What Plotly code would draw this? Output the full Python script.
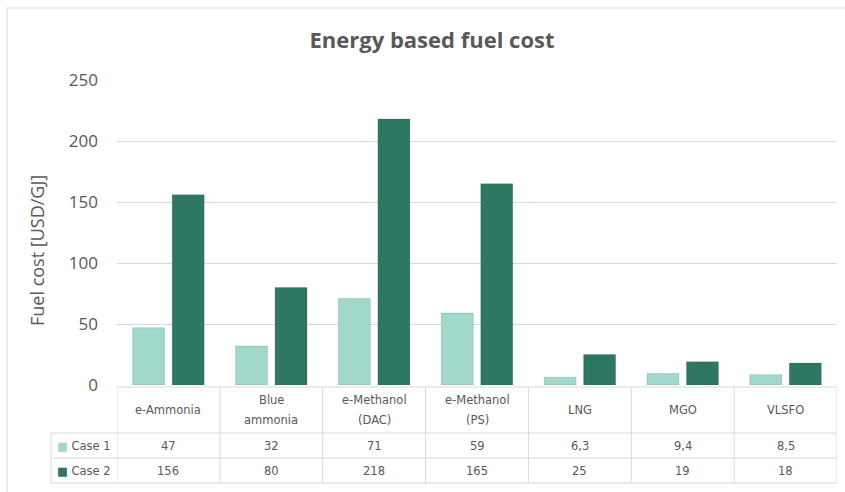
import plotly.graph_objects as go

categories = ["e-Ammonia", "Blue<br>ammonia", "e-Methanol<br>(DAC)", "e-Methanol<br>(PS)", "LNG", "MGO", "VLSFO"]
series_names = ["Case 1", "Case 2"]
case1 = [47, 32, 71, 59, 6.3, 9.4, 8.5]
case2 = [156, 80, 218, 165, 25, 19, 18]
case1_labels = ["47", "32", "71", "59", "6,3", "9,4", "8,5"]
case2_labels = ["156", "80", "218", "165", "25", "19", "18"]
y_ticks = [0, 50, 100, 150, 200, 250]
y_title = "Fuel cost [USD/GJ]"

C1 = "#A0D8CB"
C2 = "#2E7763"
TXT = "#595959"
GRID = "#D9D9D9"

W, H = 845, 492
ML, MR, MT, MB = 117, 8, 80, 107
PW = W - ML - MR
PH = H - MT - MB


def px_x(px):
    return (px - ML) / PW


def px_y(py):
    return (H - MB - py) / PH


fig = go.Figure()
fig.add_trace(go.Bar(x=list(range(len(categories))), y=case1, name=series_names[0],
                     marker=dict(color=C1, line=dict(color="rgba(0,0,0,0.12)", width=1))))
fig.add_trace(go.Bar(x=list(range(len(categories))), y=case2, name=series_names[1],
                     marker=dict(color=C2, line=dict(color="rgba(0,0,0,0.12)", width=1))))

shapes = []
annotations = []
n = len(categories)

# table geometry (pixels)
top_y, head_y, r1_y, r2_y = 387, 433, 458, 483
leg_left = 51

line = dict(color=GRID, width=1)
shapes.append(dict(type="line", xref="x", yref="paper", x0=-0.5, x1=n - 0.5,
                   y0=px_y(top_y), y1=px_y(top_y), line=line))
for yy in (head_y, r1_y, r2_y):
    shapes.append(dict(type="line", xref="paper", yref="paper", x0=px_x(leg_left), x1=1,
                       y0=px_y(yy), y1=px_y(yy), line=line))
for i in range(n + 1):
    shapes.append(dict(type="line", xref="x", yref="paper", x0=i - 0.5, x1=i - 0.5,
                       y0=px_y(top_y), y1=px_y(r2_y), line=line))
shapes.append(dict(type="line", xref="paper", yref="paper", x0=px_x(leg_left), x1=px_x(leg_left),
                   y0=px_y(head_y), y1=px_y(r2_y), line=line))
# chart border (left + top)
shapes.append(dict(type="line", xref="paper", yref="paper", x0=px_x(7), x1=px_x(7),
                   y0=px_y(8), y1=px_y(H), line=dict(color="#D9D9D9", width=1)))
shapes.append(dict(type="line", xref="paper", yref="paper", x0=px_x(7), x1=px_x(W),
                   y0=px_y(8), y1=px_y(8), line=dict(color="#D9D9D9", width=1)))

tfont = dict(family="DejaVu Sans", size=11.5, color=TXT)
for i, cat in enumerate(categories):
    parts = cat.split("<br>")
    head_c = (top_y + head_y) / 2
    ys = [head_c] if len(parts) == 1 else [head_c - 10, head_c + 10]
    for p, yy in zip(parts, ys):
        annotations.append(dict(x=i, y=px_y(yy), xref="x", yref="paper", text=p,
                                showarrow=False, font=tfont, xanchor="center", yanchor="middle"))
    annotations.append(dict(x=i, y=px_y((head_y + r1_y) / 2), xref="x", yref="paper",
                            text=case1_labels[i], showarrow=False, font=tfont,
                            xanchor="center", yanchor="middle"))
    annotations.append(dict(x=i, y=px_y((r1_y + r2_y) / 2), xref="x", yref="paper",
                            text=case2_labels[i], showarrow=False, font=tfont,
                            xanchor="center", yanchor="middle"))

for name, col, (a, b) in ((series_names[0], C1, (head_y, r1_y)), (series_names[1], C2, (r1_y, r2_y))):
    annotations.append(dict(x=px_x(55), y=px_y((a + b) / 2), xref="paper", yref="paper",
                            text=f'<span style="color:{col}">■</span> {name}', showarrow=False,
                            font=tfont, xanchor="left", yanchor="middle"))

# y-axis title
annotations.append(dict(x=px_x(37), y=px_y(251), xref="paper", yref="paper", text=y_title,
                        textangle=-90, showarrow=False, xanchor="center", yanchor="middle",
                        font=dict(family="Open Sans", size=18, color=TXT)))

fig.update_layout(
    width=W, height=H,
    margin=dict(l=ML, r=MR, t=MT, b=MB),
    paper_bgcolor="white", plot_bgcolor="white",
    showlegend=False,
    bargap=0.232, bargroupgap=0.19,
    title=dict(text="<b>Energy based fuel cost</b>", x=432 / W, xanchor="center", y=1 - 40 / H,
               yanchor="middle", font=dict(family="Open Sans", size=22, color=TXT)),
    xaxis=dict(range=[-0.5, n - 0.5], showticklabels=False, showgrid=False, zeroline=False,
               showline=False, fixedrange=True),
    yaxis=dict(range=[0, 250], tickvals=y_ticks, showgrid=True, gridcolor=GRID, gridwidth=1,
               zeroline=False, showline=False, ticks="", ticklabelstandoff=18,
               tickfont=dict(family="Open Sans", size=17, color=TXT)),
    shapes=shapes, annotations=annotations,
)

fig.write_html("out.html")
